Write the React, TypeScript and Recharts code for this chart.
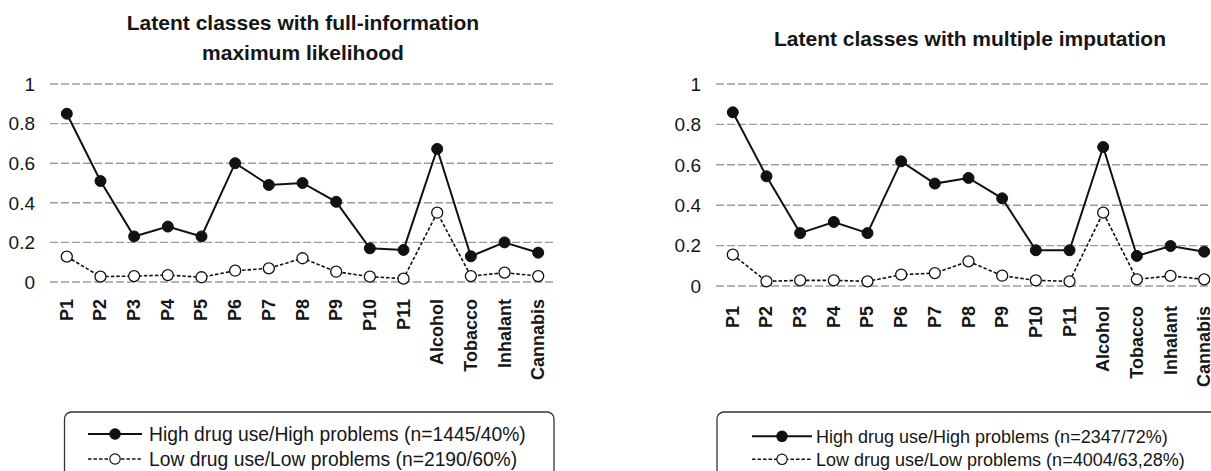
import React from 'react';
import { LineChart, Line, XAxis, YAxis, CartesianGrid } from 'recharts';

const categories = ['P1', 'P2', 'P3', 'P4', 'P5', 'P6', 'P7', 'P8', 'P9', 'P10', 'P11', 'Alcohol', 'Tobacco', 'Inhalant', 'Cannabis'];
const fimlHigh = [0.85, 0.51, 0.23, 0.28, 0.23, 0.6, 0.49, 0.5, 0.405, 0.17, 0.162, 0.672, 0.13, 0.2, 0.148];
const fimlLow = [0.128, 0.027, 0.03, 0.035, 0.024, 0.057, 0.069, 0.12, 0.052, 0.027, 0.017, 0.35, 0.03, 0.047, 0.03];
const miHigh = [0.86, 0.543, 0.262, 0.317, 0.262, 0.617, 0.507, 0.535, 0.434, 0.177, 0.177, 0.688, 0.149, 0.198, 0.17];
const miLow = [0.155, 0.023, 0.028, 0.028, 0.023, 0.056, 0.064, 0.122, 0.051, 0.028, 0.023, 0.363, 0.033, 0.05, 0.033];
const yTicks = [0, 0.2, 0.4, 0.6, 0.8, 1];

const fimlTitle = ['Latent classes with full-information', 'maximum likelihood'];
const miTitle = 'Latent classes with multiple imputation';
const fimlLegend = ['High drug use/High problems (n=1445/40%)', 'Low drug use/Low problems (n=2190/60%)'];
const miLegend = ['High drug use/High problems (n=2347/72%)', 'Low drug use/Low problems (n=4004/63,28%)'];

const FONT = '"Liberation Sans", Arial, Helvetica, sans-serif';
const INK = '#161616';

const buildRows = (high: number[], low: number[]) =>
  categories.map((c, i) => ({ cat: c, high: high[i], low: low[i] }));

const XTick = (props: any) => {
  const { x, y, payload } = props;
  return (
    <text
      x={x}
      y={y}
      transform={`rotate(-90 ${x} ${y})`}
      textAnchor="end"
      dominantBaseline="central"
      fontWeight="bold"
      fontSize={18}
      fontFamily={FONT}
      fill={INK}
    >
      {payload.value}
    </text>
  );
};

type PanelProps = {
  high: number[];
  low: number[];
  left: number;
  plotH: number;
  xTickMargin: number;
};

const Panel = ({ high, low, left, plotH, xTickMargin }: PanelProps) => {
  const data = buildRows(high, low);
  const H = 400;
  const top = 84;
  return (
    <div style={{ position: 'absolute', left, top: 0 }}>
      <LineChart width={560} height={H} data={data} margin={{ top, right: 5, bottom: 0, left: 0 }}>
        <CartesianGrid vertical={false} stroke="#9c9c9c" strokeWidth={1.4} strokeDasharray="8 3" />
        <XAxis
          dataKey="cat"
          type="category"
          interval={0}
          tickLine={false}
          axisLine={false}
          height={H - top - plotH}
          tickMargin={xTickMargin}
          padding={{ left: 16.8, right: 16.8 }}
          tick={<XTick />}
        />
        <YAxis
          domain={[0, 1]}
          ticks={yTicks}
          width={50}
          tickLine={false}
          axisLine={false}
          tickMargin={9}
          tick={{ fontSize: 19, fill: INK, fontFamily: FONT }}
        />
        <Line
          dataKey="low"
          isAnimationActive={false}
          stroke="#111"
          strokeWidth={1.6}
          strokeDasharray="3.5 2"
          dot={{ r: 5.5, fill: '#fff', stroke: '#111', strokeWidth: 1.3, strokeDasharray: '' }}
        />
        <Line
          dataKey="high"
          isAnimationActive={false}
          stroke="#111"
          strokeWidth={2}
          dot={{ r: 5.5, fill: '#111', stroke: '#111', strokeWidth: 1 }}
        />
      </LineChart>
    </div>
  );
};

const LegendItem = ({ x0, x1, baseline, label, filled, fontSize, textX }: any) => {
  const cy = baseline - 6.7;
  const cx = (x0 + x1) / 2;
  return (
    <g>
      <line
        x1={x0}
        x2={x1}
        y1={cy}
        y2={cy}
        stroke="#111"
        strokeWidth={filled ? 2 : 1.4}
        strokeDasharray={filled ? undefined : '3.5 2'}
      />
      <circle cx={cx} cy={cy} r={5.2} fill={filled ? '#111' : '#fff'} stroke="#111" strokeWidth={1.2} />
      <text x={textX} y={baseline} fontSize={fontSize} fontFamily={FONT} fill={INK}>
        {label}
      </text>
    </g>
  );
};

export default function App() {
  return (
    <div
      style={{
        position: 'fixed',
        left: 0,
        top: 0,
        width: 1211,
        height: 471,
        overflow: 'hidden',
        background: '#fff',
        fontFamily: FONT,
      }}
    >
      <Panel high={fimlHigh} low={fimlLow} left={0} plotH={198} xTickMargin={11} />
      <Panel high={miHigh} low={miLow} left={666} plotH={202} xTickMargin={14} />
      <svg
        width={1211}
        height={471}
        style={{ position: 'absolute', left: 0, top: 0, pointerEvents: 'none' }}
      >
        <text x={303} y={30} textAnchor="middle" fontWeight="bold" fontSize={21} fontFamily={FONT} fill={INK}>
          {fimlTitle[0]}
        </text>
        <text x={303} y={60} textAnchor="middle" fontWeight="bold" fontSize={21} fontFamily={FONT} fill={INK}>
          {fimlTitle[1]}
        </text>
        <text x={970} y={46} textAnchor="middle" fontWeight="bold" fontSize={21} fontFamily={FONT} fill={INK}>
          {miTitle}
        </text>

        <rect x={64.5} y={412} width={489.5} height={80} rx={7} ry={7} fill="none" stroke="#333" strokeWidth={1.3} />
        <LegendItem x0={88} x1={142} baseline={440.7} label={fimlLegend[0]} filled fontSize={19.3} textX={149} />
        <LegendItem x0={88} x1={142} baseline={465.7} label={fimlLegend[1]} filled={false} fontSize={19.3} textX={149} />

        <rect x={717} y={412} width={520} height={80} rx={7} ry={7} fill="none" stroke="#333" strokeWidth={1.3} />
        <LegendItem x0={752} x1={812} baseline={443} label={miLegend[0]} filled fontSize={18} textX={816} />
        <LegendItem x0={752} x1={812} baseline={466} label={miLegend[1]} filled={false} fontSize={18} textX={816} />
      </svg>
    </div>
  );
}
